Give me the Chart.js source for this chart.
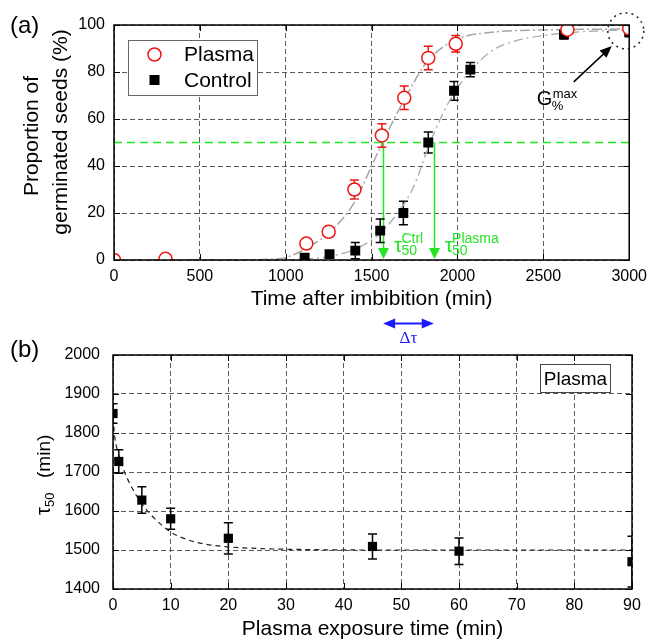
<!DOCTYPE html>
<html><head><meta charset="utf-8">
<script src="https://cdn.jsdelivr.net/npm/chart.js@4.4.0/dist/chart.umd.min.js"></script>
<style>
html,body{margin:0;padding:0;background:#fff;overflow:hidden;width:654px;height:641px;}
canvas{position:absolute;left:0;}
#ca{top:0}
#cb{top:330px}
</style></head><body>
<canvas id="ca" width="654" height="350"></canvas>
<canvas id="cb" width="654" height="320"></canvas>
<script>
const FONT = "'Liberation Sans', Arial, sans-serif";
// ---------- Panel (a) data ----------
const plasmaTime = [0, 300, 1120, 1250, 1400, 1560, 1690, 1830, 1990, 2640, 3000];
const plasmaPct  = [0, 0.5, 7, 12, 30, 53, 69, 86, 92, 98, 98.5];
const plasmaErr  = [0.5, 0.5, 1.5, 2, 4, 5, 5, 5, 3.5, 1.5, 1];
const controlTime = [1110, 1255, 1405, 1550, 1685, 1830, 1980, 2075, 2620, 3000];
const controlPct  = [1, 2.5, 4, 12.5, 20, 50, 72, 81, 96, 97];
const controlErr  = [1, 1, 3.5, 5, 5, 4.5, 4, 3, 2, 2];
const plasmaFitTime = [0, 700, 900, 1000, 1120, 1250, 1400, 1500, 1570, 1700, 1830, 2000, 2200, 2500, 3000];
const plasmaFitPct  = [0, 0, 0.3, 1, 5, 11.5, 24.5, 40, 51, 69.5, 85, 94, 96.9, 97.9, 98.3];
const controlFitTime = [0, 1000, 1100, 1250, 1400, 1500, 1560, 1690, 1750, 1830, 1900, 1980, 2070, 2200, 2350, 2500, 2700, 3000];
const controlFitPct  = [0, 0, 0.3, 1.4, 4.5, 8.5, 12, 24, 32, 48, 60, 71, 80, 89, 93.5, 95.5, 97, 98];
const tau50Values = [1567, 1862];   // arrows (Ctrl label, Plasma label as in original)
const tau50Labels = ['Ctrl', 'Plasma'];
const halfLevel = 50;
const gMax = [2980, 97.5];
const xTicksA = {min: 0, max: 3000, step: 500};
const yTicksA = {min: 0, max: 100, step: 20};
// ---------- Panel (b) data ----------
const exposure = [0, 1, 5, 10, 20, 45, 60, 90];
const tau50 = [1850, 1727, 1628, 1580, 1530, 1509, 1497, 1470];
const tau50Err = [25, 30, 34, 27, 40, 32, 34, 65];
const fitExposure = [0, 0.3, 1, 2, 3, 5, 7, 10, 13, 16, 20, 25, 30, 45, 60, 90];
const fitTau = [1840, 1790, 1745, 1700, 1668, 1618, 1584, 1546, 1526, 1515, 1508, 1504, 1502, 1500, 1500, 1500];
const xTicksB = {min: 0, max: 90, step: 10};
const yTicksB = {min: 1400, max: 2000, step: 100};

const RED = '#f01414', GREEN = '#22e622', BLUE = '#1a1aff', GRID = '#5a5a5a';
const pts = (xs, ys) => xs.map((v, i) => ({x: v, y: ys[i]}));

function clipArea(ctx, a){ ctx.beginPath(); ctx.rect(a.left, a.top, a.right - a.left, a.bottom - a.top); ctx.clip(); }
function drawErr(ctx, x, y, xs, ys, es, color){
  ctx.strokeStyle = color; ctx.lineWidth = 1.5; ctx.setLineDash([]);
  xs.forEach((v, i) => {
    const px = x.getPixelForValue(v);
    const t = y.getPixelForValue(ys[i] + es[i]), b = y.getPixelForValue(ys[i] - es[i]);
    ctx.beginPath();
    ctx.moveTo(px, t); ctx.lineTo(px, b);
    ctx.moveTo(px - 4.5, t); ctx.lineTo(px + 4.5, t);
    ctx.moveTo(px - 4.5, b); ctx.lineTo(px + 4.5, b);
    ctx.stroke();
  });
}
function frameAndTicks(chart){
  const {ctx, chartArea: a, scales: {x, y}} = chart;
  ctx.save();
  ctx.setLineDash([]);
  ctx.strokeStyle = '#000'; ctx.lineWidth = 1;
  ctx.beginPath();
  x.ticks.forEach(t => { const p = Math.round(x.getPixelForValue(t.value)) + 0.5;
    ctx.moveTo(p, a.bottom); ctx.lineTo(p, a.bottom - 6); ctx.moveTo(p, a.top); ctx.lineTo(p, a.top + 6); });
  y.ticks.forEach(t => { const p = Math.round(y.getPixelForValue(t.value)) + 0.5;
    ctx.moveTo(a.left, p); ctx.lineTo(a.left + 6, p); ctx.moveTo(a.right, p); ctx.lineTo(a.right - 6, p); });
  ctx.stroke();
  ctx.lineWidth = 1.5; ctx.strokeStyle = '#000';
  ctx.strokeRect(a.left, a.top, a.right - a.left, a.bottom - a.top);
  ctx.restore();
}
function arrowHead(ctx, x0, y0, x1, y1, len, half){
  const ang = Math.atan2(y1 - y0, x1 - x0);
  const bx = x1 - len * Math.cos(ang), by = y1 - len * Math.sin(ang);
  ctx.beginPath();
  ctx.moveTo(x1, y1);
  ctx.lineTo(bx + half * Math.sin(ang), by - half * Math.cos(ang));
  ctx.lineTo(bx - half * Math.sin(ang), by + half * Math.cos(ang));
  ctx.closePath(); ctx.fill();
}

const annA = {
  id: 'annA',
  beforeDatasetsDraw(chart){
    const {ctx, chartArea: a, scales: {x, y}} = chart;
    ctx.save(); clipArea(ctx, a);
    const hy = y.getPixelForValue(halfLevel);
    ctx.strokeStyle = GREEN; ctx.lineWidth = 1.5; ctx.setLineDash([8, 5]);
    ctx.beginPath(); ctx.moveTo(a.left, hy); ctx.lineTo(a.right, hy); ctx.stroke();
    ctx.setLineDash([]);
    ctx.fillStyle = GREEN;
    tau50Values.forEach(t => {
      const px = Math.round(x.getPixelForValue(t)) + 0.5, bot = y.getPixelForValue(0);
      ctx.beginPath(); ctx.moveTo(px, hy); ctx.lineTo(px, bot - 8); ctx.stroke();
      arrowHead(ctx, px, hy, px, bot - 1, 11, 5.5);
    });
    drawErr(ctx, x, y, controlTime, controlPct, controlErr, '#000');
    drawErr(ctx, x, y, plasmaTime, plasmaPct, plasmaErr, RED);
    ctx.restore();
  },
  afterDatasetsDraw(chart){ frameAndTicks(chart); },
  afterDraw(chart){
    const {ctx, scales: {x, y}} = chart;
    ctx.save();
    ctx.fillStyle = '#000'; ctx.textBaseline = 'alphabetic';
    // panel label
    ctx.font = `24px ${FONT}`; ctx.textAlign = 'left';
    ctx.fillText('(a)', 10, 33);
    // y title
    ctx.font = `21px ${FONT}`; ctx.textAlign = 'center';
    ctx.save(); ctx.translate(38, 136); ctx.rotate(-Math.PI / 2); ctx.fillText('Proportion of', 0, 0); ctx.restore();
    ctx.save(); ctx.translate(67, 132); ctx.rotate(-Math.PI / 2); ctx.fillText('germinated seeds (%)', 0, 0); ctx.restore();
    // legend
    ctx.fillStyle = '#fff'; ctx.strokeStyle = '#666'; ctx.lineWidth = 1;
    ctx.fillRect(128.5, 40.5, 129, 55); ctx.strokeRect(128.5, 40.5, 129, 55);
    ctx.strokeStyle = RED; ctx.lineWidth = 1.5;
    ctx.beginPath(); ctx.arc(154.5, 54.5, 6.5, 0, Math.PI * 2); ctx.fill(); ctx.stroke();
    ctx.fillStyle = '#000'; ctx.fillRect(149.5, 75, 10, 10);
    ctx.font = `21px ${FONT}`; ctx.textAlign = 'left';
    ctx.fillText('Plasma', 184, 61); ctx.fillText('Control', 184, 87);
    // tau50 labels
    ctx.fillStyle = GREEN;
    tau50Values.forEach((t, i) => {
      const px = x.getPixelForValue(t) + 11;
      ctx.font = `21px ${FONT}`; ctx.fillText('τ', px, 252);
      const w = ctx.measureText('τ').width;
      ctx.font = `14px ${FONT}`; ctx.fillText('50', px + w - 1, 255); ctx.fillText(tau50Labels[i], px + w - 1, 243);
    });
    // delta tau arrow
    const x1 = x.getPixelForValue(tau50Values[0]), x2 = x.getPixelForValue(tau50Values[1]), ay = 323.5;
    ctx.strokeStyle = BLUE; ctx.fillStyle = BLUE; ctx.lineWidth = 2;
    ctx.beginPath(); ctx.moveTo(x1 + 8, ay); ctx.lineTo(x2 - 8, ay); ctx.stroke();
    arrowHead(ctx, x2, ay, x1, ay, 12, 5); arrowHead(ctx, x1, ay, x2, ay, 12, 5);
    ctx.font = `17px 'Liberation Serif', 'Times New Roman', serif`; ctx.textAlign = 'center';
    ctx.fillText('Δτ', (x1 + x2) / 2, 343);
    // G max annotation
    const cx = x.getPixelForValue(gMax[0]), cy = y.getPixelForValue(gMax[1]);
    ctx.strokeStyle = '#222'; ctx.lineWidth = 1.5; ctx.setLineDash([2, 4]);
    ctx.beginPath(); ctx.arc(cx, cy, 18, 0, Math.PI * 2); ctx.stroke();
    ctx.setLineDash([]); ctx.strokeStyle = '#000'; ctx.fillStyle = '#000';
    ctx.beginPath(); ctx.moveTo(cx - 52, cy + 51); ctx.lineTo(cx - 20, cy + 21); ctx.stroke();
    arrowHead(ctx, cx - 52, cy + 51, cx - 14, cy + 15, 12, 5);
    ctx.textAlign = 'left';
    ctx.font = `20px ${FONT}`; ctx.fillText('G', cx - 89, cy + 74);
    ctx.font = `13px ${FONT}`; ctx.fillText('max', cx - 73, cy + 67); ctx.fillText('%', cx - 74, cy + 79);
    ctx.restore();
  }
};

const annB = {
  id: 'annB',
  beforeDatasetsDraw(chart){
    const {ctx, chartArea: a, scales: {x, y}} = chart;
    ctx.save(); clipArea(ctx, a);
    drawErr(ctx, x, y, exposure, tau50, tau50Err, '#000');
    ctx.restore();
  },
  afterDatasetsDraw(chart){ frameAndTicks(chart); },
  afterDraw(chart){
    const {ctx} = chart;
    ctx.save();
    ctx.fillStyle = '#000'; ctx.textBaseline = 'alphabetic'; ctx.textAlign = 'left';
    ctx.font = `24px ${FONT}`; ctx.fillText('(b)', 10, 27);
    // y title tau_50 (min)
    ctx.save(); ctx.translate(50, 185); ctx.rotate(-Math.PI / 2);
    ctx.font = `20px ${FONT}`; ctx.fillText('τ', 0, 0);
    const w = ctx.measureText('τ').width;
    ctx.font = `13px ${FONT}`; ctx.fillText('50', w, 4);
    ctx.font = `19px ${FONT}`; ctx.fillText('(min)', 37, 0);
    ctx.restore();
    // Plasma box
    ctx.fillStyle = '#fff'; ctx.strokeStyle = '#444'; ctx.lineWidth = 1;
    ctx.fillRect(540.5, 34.5, 70, 28); ctx.strokeRect(540.5, 34.5, 70, 28);
    ctx.fillStyle = '#000'; ctx.font = `19px ${FONT}`; ctx.textAlign = 'center';
    ctx.fillText('Plasma', 575.5, 55);
    ctx.restore();
  }
};

function axis(t, fit, pad, title, titlePad){
  const o = {
    type: 'linear', min: t.min, max: t.max,
    ticks: {stepSize: t.step, color: '#000', font: {family: FONT, size: 16}, padding: pad,
            callback: v => String(v)},
    grid: {color: GRID, lineWidth: 1, drawTicks: false},
    border: {display: false, dash: [5, 3]},
    afterFit: fit
  };
  if (title) o.title = {display: true, text: title, color: '#000', font: {family: FONT, size: 21}, padding: {top: 0, bottom: titlePad}};
  return o;
}
const common = {
  responsive: false, animation: false, devicePixelRatio: 1, events: [],
  plugins: {legend: {display: false}, tooltip: {enabled: false}}
};

new Chart(document.getElementById('ca'), {
  type: 'scatter',
  data: {datasets: [
    {data: pts(plasmaTime, plasmaPct), pointStyle: 'circle', pointRadius: 6.5, borderColor: RED, backgroundColor: '#fff', pointBorderWidth: 1.5, clip: 0},
    {data: pts(controlTime, controlPct), pointStyle: 'rect', pointRadius: 7, borderColor: '#000', backgroundColor: '#000', pointBorderWidth: 0, clip: 0},
    {data: pts(plasmaFitTime, plasmaFitPct), showLine: true, pointRadius: 0, borderColor: '#a5a5a5', borderWidth: 1.5, borderDash: [10, 3, 2, 3], cubicInterpolationMode: 'monotone', clip: 0},
    {data: pts(controlFitTime, controlFitPct), showLine: true, pointRadius: 0, borderColor: '#b2b2b2', borderWidth: 1.5, borderDash: [9, 4, 2, 4], cubicInterpolationMode: 'monotone', clip: 0}
  ]},
  options: Object.assign({}, common, {
    layout: {padding: {top: 25, right: 20, left: 0, bottom: 0}},
    scales: {
      x: axis(xTicksA, s => { s.height = 90; }, 7, 'Time after imbibition (min)', 38.5),
      y: axis(yTicksA, s => { s.width = 114; }, 9)
    }
  }),
  plugins: [annA]
});

new Chart(document.getElementById('cb'), {
  type: 'scatter',
  data: {datasets: [
    {data: pts(exposure, tau50), pointStyle: 'rect', pointRadius: 6.5, borderColor: '#000', backgroundColor: '#000', pointBorderWidth: 0, clip: 0},
    {data: pts(fitExposure, fitTau), showLine: true, pointRadius: 0, borderColor: '#222', borderWidth: 1.2, borderDash: [5, 4], cubicInterpolationMode: 'monotone', clip: 0}
  ]},
  options: Object.assign({}, common, {
    layout: {padding: {top: 25, right: 22, left: 0, bottom: 0}},
    scales: {
      x: axis(xTicksB, s => { s.height = 61; }, 7, 'Plasma exposure time (min)', 8),
      y: axis(yTicksB, s => { s.width = 113; }, 13)
    }
  }),
  plugins: [annB]
});
</script>
</body></html>
